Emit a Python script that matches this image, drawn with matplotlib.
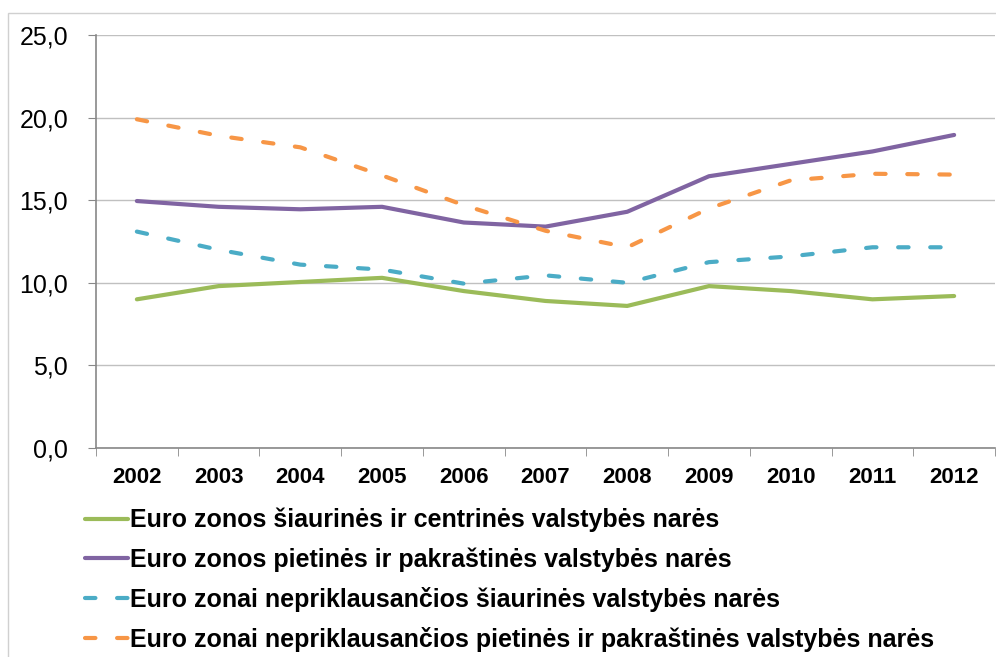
import matplotlib.pyplot as plt
from matplotlib.patches import Rectangle

years = ['2002', '2003', '2004', '2005', '2006', '2007', '2008', '2009', '2010', '2011', '2012']
north_central = [9.0, 9.8, 10.05, 10.3, 9.5, 8.9, 8.6, 9.8, 9.5, 9.0, 9.2]
south_periph = [14.95, 14.6, 14.45, 14.6, 13.65, 13.4, 14.3, 16.45, 17.2, 17.95, 18.95]
non_euro_north = [13.1, 12.0, 11.1, 10.8, 9.95, 10.45, 10.0, 11.25, 11.6, 12.15, 12.15]
non_euro_south = [19.9, 18.9, 18.2, 16.5, 14.7, 13.15, 12.15, 14.5, 16.2, 16.6, 16.55]

labels = [
    'Euro zonos šiaurinės ir centrinės valstybės narės',
    'Euro zonos pietinės ir pakraštinės valstybės narės',
    'Euro zonai nepriklausančios šiaurinės valstybės narės',
    'Euro zonai nepriklausančios pietinės ir pakraštinės valstybės narės',
]

plt.rcParams['font.family'] = ['Liberation Sans', 'DejaVu Sans']

fig = plt.figure(figsize=(9.96, 6.57), dpi=100)
fig.patches.append(Rectangle((8 / 996, -0.01), 1, 1 - 13 / 657 + 0.01, transform=fig.transFigure,
                             fill=False, edgecolor='#d0d0d0', linewidth=1))
ax = fig.add_axes([96 / 996, 1 - 448 / 657, 899 / 996, 413 / 657])

x = range(len(years))
lw = 3.0
h1, = ax.plot(x, north_central, color='#9BBB59', lw=lw, solid_capstyle='round')
h2, = ax.plot(x, south_periph, color='#8064A2', lw=lw, solid_capstyle='round')
h3, = ax.plot(x, non_euro_north, color='#4BACC6', lw=lw, dashes=(2.5, 5.2), dash_capstyle='round')
h4, = ax.plot(x, non_euro_south, color='#F79646', lw=lw, dashes=(2.5, 5.2), dash_capstyle='round')

ax.set_xlim(-0.5, len(years) - 0.5)
ax.set_ylim(0, 25)
ax.set_yticks([0, 5, 10, 15, 20, 25])
ax.set_yticklabels([f'{v:.1f}'.replace('.', ',') for v in [0, 5, 10, 15, 20, 25]], fontsize=18)
ax.set_xticks(list(x))
ax.set_xticklabels(years, fontsize=16, fontweight='bold')
ax.set_xticks([i - 0.5 for i in range(len(years) + 1)], minor=True)
ax.tick_params(axis='x', which='major', length=0, pad=14)
ax.tick_params(axis='x', which='minor', length=6, color='#888888', direction='out')
ax.tick_params(axis='y', length=6, color='#888888', pad=14)
ax.grid(axis='y', color='#c0c0c0', linewidth=1)
ax.set_axisbelow(True)
for s in ['top', 'right']:
    ax.spines[s].set_visible(False)
ax.spines['left'].set_color('#888888')
ax.spines['bottom'].set_color('#888888')
ax.spines['left'].set_linewidth(1.2)
ax.spines['bottom'].set_linewidth(1.2)

fig.legend([h1, h2, h3, h4], labels, loc='upper left', bbox_to_anchor=(85 / 996, 1 - 508 / 657),
           frameon=False, prop={'size': 18, 'weight': 'bold'}, handlelength=1.7,
           handletextpad=0.1, labelspacing=0.6, borderpad=0, borderaxespad=0)

fig.savefig('out.png', dpi=100)
